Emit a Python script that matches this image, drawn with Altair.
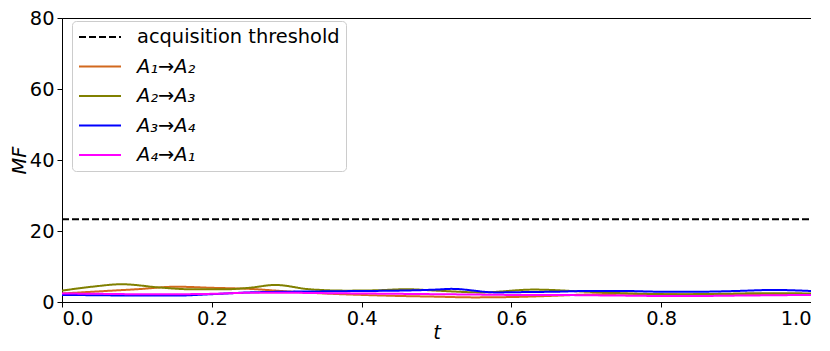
import altair as alt
import pandas as pd

threshold_value = 23.3

series_names = ["acquisition threshold", "A₁→A₂", "A₂→A₃", "A₃→A₄", "A₄→A₁"]
series_colors = ["#000000", "#d2691e", "#808000", "#0000ff", "#ff00ff"]
series_dash = [[7, 3], [1, 0], [1, 0], [1, 0], [1, 0]]

t_thr = [0.0, 1.0]
v_thr = [threshold_value, threshold_value]

t_a12 = [0, 0.05, 0.1, 0.153, 0.2, 0.25, 0.3, 0.35, 0.4, 0.45, 0.5, 0.55, 0.6, 0.65, 0.7, 0.75, 0.8, 0.85, 0.9, 0.95, 1.0]
v_a12 = [2.4, 3.0, 3.6, 4.3, 4.0, 3.7, 3.0, 2.4, 2.0, 1.7, 1.5, 1.3, 1.4, 1.7, 2.1, 2.3, 2.2, 2.1, 2.1, 2.2, 2.2]

t_a23 = [0, 0.04, 0.08, 0.13, 0.17, 0.22, 0.25, 0.285, 0.33, 0.38, 0.42, 0.46, 0.5, 0.56, 0.63, 0.7, 0.76, 0.82, 0.88, 0.94, 1.0]
v_a23 = [3.2, 4.3, 5.0, 4.1, 3.6, 3.6, 4.0, 4.8, 3.6, 3.2, 3.3, 3.6, 3.2, 2.7, 3.5, 2.9, 2.4, 2.2, 2.3, 2.5, 2.4]

t_a34 = [0, 0.05, 0.1, 0.15, 0.2, 0.25, 0.3, 0.35, 0.4, 0.45, 0.5, 0.52, 0.58, 0.62, 0.66, 0.7, 0.75, 0.8, 0.85, 0.9, 0.95, 1.0]
v_a34 = [2.0, 1.9, 1.8, 1.8, 2.2, 2.7, 2.9, 3.0, 3.1, 3.2, 3.5, 3.7, 2.7, 2.8, 2.9, 3.1, 3.1, 2.9, 2.9, 3.1, 3.4, 3.1]

t_a41 = [0, 0.05, 0.1, 0.15, 0.2, 0.25, 0.3, 0.35, 0.4, 0.45, 0.5, 0.55, 0.6, 0.65, 0.7, 0.75, 0.8, 0.85, 0.9, 0.95, 1.0]
v_a41 = [2.4, 2.3, 2.2, 2.2, 2.3, 2.6, 2.6, 2.5, 2.4, 2.3, 2.2, 2.1, 2.0, 2.0, 1.9, 1.8, 1.7, 1.7, 1.8, 1.9, 2.0]

x_ticks = [0.0, 0.2, 0.4, 0.6, 0.8, 1.0]
y_ticks = [0, 20, 40, 60, 80]

rows = []
for name, ts, vs in zip(series_names,
                        [t_thr, t_a12, t_a23, t_a34, t_a41],
                        [v_thr, v_a12, v_a23, v_a34, v_a41]):
    for t, v in zip(ts, vs):
        rows.append({"series": name, "t": t, "MF": v})
df = pd.DataFrame(rows)

FONT = "DejaVu Sans"
FS = 19.4

legend = alt.Legend(
    title=None,
    orient="none",
    legendX=10,
    legendY=3,
    fillColor="white",
    strokeColor="#cccccc",
    cornerRadius=4,
    padding=6,
    labelFont=FONT,
    labelFontSize=FS,
    labelColor="black",
    labelLimit=400,
    labelFontStyle=alt.expr("datum.label == 'acquisition threshold' ? 'normal' : 'italic'"),
    labelOffset=15,
    symbolType="stroke",
    symbolSize=1764,
    symbolStrokeWidth=2,
    clipHeight=20,
    rowPadding=9.5,
)

chart = alt.Chart(df).mark_line(strokeWidth=2, interpolate="monotone").encode(
    x=alt.X("t:Q", scale=alt.Scale(domain=[0, 1], nice=False),
            axis=alt.Axis(values=x_ticks, format=".1f", title="t", titleFontStyle="italic",
                          titleBaseline="alphabetic", titleY=36.5)),
    y=alt.Y("MF:Q", scale=alt.Scale(domain=[0, 80], nice=False),
            axis=alt.Axis(values=y_ticks, format="d", title="MF", titleFontStyle="italic")),
    color=alt.Color("series:N", sort=series_names,
                    scale=alt.Scale(domain=series_names, range=series_colors),
                    legend=legend),
    strokeDash=alt.StrokeDash("series:N", sort=series_names,
                              scale=alt.Scale(domain=series_names, range=series_dash),
                              legend=legend),
    order=alt.Order("t:Q"),
).properties(
    width=749,
    height=284,
    autosize=alt.AutoSizeParams(type="none"),
    padding={"left": 54, "top": 10, "right": 0, "bottom": 41},
).configure_view(
    stroke="black", strokeWidth=1
).configure_axis(
    grid=False,
    domainColor="black",
    tickColor="black",
    tickSize=5,
    labelFont=FONT,
    labelFontSize=FS,
    labelColor="black",
    titleFont=FONT,
    titleFontSize=FS,
    titleFontWeight="normal",
    titleColor="black",
).configure_axisX(
    labelPadding=2,
).configure_axisY(
    labelPadding=3,
    titlePadding=0,
)

chart.save("out.html", embed_options={"renderer": "svg", "actions": False})
